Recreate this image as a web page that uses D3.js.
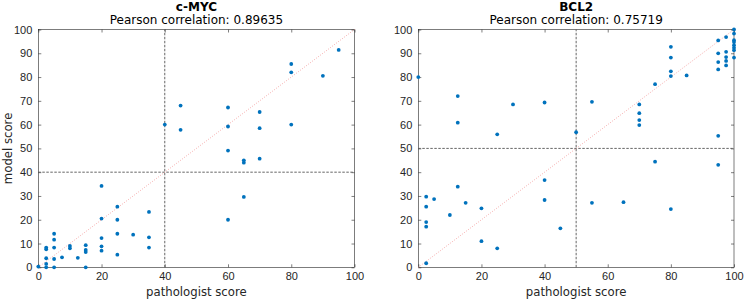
<!DOCTYPE html>
<meta charset="utf-8">
<style>
body { margin: 0; background: #fff; }
svg { font-family: "DejaVu Sans", sans-serif; }
.tick text { fill: #262626; font-size: 11px; }
</style>
<body>
<script src="https://d3js.org/d3.v7.min.js"></script>
<script>
// c-MYC: pathologist score vs model score
const mycPath = [0, 2.5, 2.5, 2.5, 2.5, 2.5, 5, 5, 5, 5, 5, 7.5, 10, 10, 12.5, 15, 15, 15, 15,
  20, 20, 20, 20, 20, 25, 25, 25, 25, 30, 35, 35, 35,
  40, 45, 45, 60, 60, 60, 60, 65, 65, 65, 70, 70, 70, 80, 80, 80, 90, 95];
const mycModel = [0.3, 8.3, 7.6, 3.8, 1.4, 0, 14.1, 11.6, 8.3, 3.5, 0, 4.2, 9, 8, 4, 9.3, 7.3, 6.4, 0,
  34.2, 20.5, 12.3, 8.8, 7, 25.5, 20, 14.1, 5.3, 13.7, 23.3, 12.6, 8.3,
  60, 68, 57.8, 67.2, 59.2, 49.1, 20, 45, 44, 29.6, 65.3, 58.5, 45.7, 85.5, 82, 60, 80.5, 91.4];

// BCL2
const bclPath = [0, 2.5, 2.5, 2.5, 2.5, 2.5, 5, 10, 12.5, 12.5, 12.5, 15, 20, 20, 25, 25, 30,
  40, 40, 40, 45, 50, 55, 55, 65, 70, 70, 70, 70, 75, 75, 80, 80, 80, 80, 80, 85,
  95, 95, 95, 95, 95, 95, 97.5, 97.5, 97.5, 97.5, 97.5,
  100, 100, 100, 100, 100, 100, 100, 100];
const bclModel = [80, 29.7, 25.5, 19, 17.1, 1.7, 28.7, 22, 72, 60.8, 33.9, 27.1, 24.8, 11, 55.9, 8, 68.5,
  69.3, 36.7, 28.3, 16.4, 56.8, 69.6, 27.1, 27.4, 68.5, 64.8, 61.9, 59.8, 77, 44.4, 92.7, 88.2, 82.4, 80.4, 24.5, 80.7,
  95.4, 90, 86.3, 83.2, 55.3, 43.1, 96.8, 90.6, 88.4, 86.8, 84.9,
  100, 98.3, 95.5, 94.7, 93.4, 92.3, 91.3, 88.2];

const xTicks = [0, 20, 40, 60, 80, 100];
const yTicks = [0, 10, 20, 30, 40, 50, 60, 70, 80, 90, 100];

const svg = d3.select("body").append("svg")
  .attr("width", 744).attr("height", 299);

function panel(left, right, title, corr, xs, ys, cut) {
  const x = d3.scaleLinear().domain([0, 100]).range([left, right]);
  const y = d3.scaleLinear().domain([0, 100]).range([267.3, 29.5]);
  const g = svg.append("g");

  // box
  g.append("rect")
    .attr("x", x(0)).attr("y", y(100))
    .attr("width", x(100) - x(0)).attr("height", y(0) - y(100))
    .attr("fill", "none").attr("stroke", "#262626").attr("stroke-width", 0.6);

  // axes with inward ticks
  const axB = g.append("g").attr("transform", `translate(0,${y(0)})`)
    .call(d3.axisBottom(x).tickValues(xTicks).tickSizeInner(-3).tickSizeOuter(0).tickPadding(5));
  const axT = g.append("g").attr("transform", `translate(0,${y(100)})`)
    .call(d3.axisTop(x).tickValues(xTicks).tickSizeInner(-3).tickSizeOuter(0).tickFormat(""));
  const axL = g.append("g").attr("transform", `translate(${x(0)},0)`)
    .call(d3.axisLeft(y).tickValues(yTicks).tickSizeInner(-3).tickSizeOuter(0).tickPadding(6));
  const axR = g.append("g").attr("transform", `translate(${x(100)},0)`)
    .call(d3.axisRight(y).tickValues(yTicks).tickSizeInner(-3).tickSizeOuter(0).tickFormat(""));
  [axB, axT, axL, axR].forEach(a => {
    a.select(".domain").remove();
    a.selectAll(".tick line").attr("stroke", "#262626").attr("stroke-width", 0.6);
  });

  // threshold lines
  g.append("line")
    .attr("x1", x(cut)).attr("x2", x(cut)).attr("y1", y(0)).attr("y2", y(100))
    .attr("stroke", "#555").attr("stroke-width", 0.9).attr("stroke-dasharray", "2.5,1.5");
  g.append("line")
    .attr("x1", x(0)).attr("x2", x(100)).attr("y1", y(cut)).attr("y2", y(cut))
    .attr("stroke", "#555").attr("stroke-width", 0.9).attr("stroke-dasharray", "2.5,1.5");

  // identity line
  g.append("line")
    .attr("x1", x(0)).attr("y1", y(0)).attr("x2", x(100)).attr("y2", y(100))
    .attr("stroke", "#f29a9a").attr("stroke-width", 0.8).attr("stroke-dasharray", "1,1.5");

  // points
  g.selectAll("circle").data(xs).join("circle")
    .attr("cx", d => x(d))
    .attr("cy", (d, i) => y(ys[i]))
    .attr("r", 1.9)
    .attr("fill", "#0072bd");

  const cx = (x(0) + x(100)) / 2;
  g.append("text").attr("x", cx).attr("y", 11).attr("text-anchor", "middle")
    .attr("font-size", 12).attr("font-weight", "bold").attr("fill", "#000").text(title);
  g.append("text").attr("x", cx).attr("y", 24).attr("text-anchor", "middle")
    .attr("font-size", 12).attr("fill", "#000").text("Pearson correlation: " + corr);
  g.append("text").attr("x", cx).attr("y", 296).attr("text-anchor", "middle")
    .attr("font-size", 11.7).attr("fill", "#262626").text("pathologist score");
  return g;
}

panel(38.3, 354.5, "c-MYC", "0.89635", mycPath, mycModel, 40);
panel(418.3, 734, "BCL2", "0.75719", bclPath, bclModel, 50);

svg.append("text")
  .attr("transform", "translate(12,148.4) rotate(-90)")
  .attr("text-anchor", "middle").attr("font-size", 11.7).attr("fill", "#262626")
  .text("model score");
</script>
</body>
